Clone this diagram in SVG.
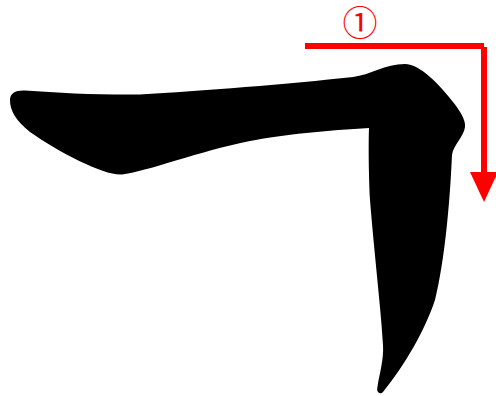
<svg xmlns="http://www.w3.org/2000/svg" width="496" height="396" viewBox="0 0 496 396">
<style>
.red{stroke:#ff0000;stroke-width:6;fill:none}
.num{font-family:"Noto Sans CJK JP","DejaVu Sans",sans-serif;font-size:35px;fill:#ff0000}
</style>
<rect width="496" height="396" fill="#ffffff"/>
<g id="stroke">
<path fill="#000000" d="M 10,100 C 10,93 16,90 25,90.5 C 60,93 100,95 140,94.5 C 200,91 290,84 353,77 C 370,75 385,64 405,64 C 420,64 440,85 453,102 C 460,111 466,120 465,127 C 464,136 453,146 452,155 C 450,200 445,260 435,300 C 425,330 405,365 383,392 C 380,395 376,392 377.5,387 C 379,375 384,360 383,345 C 382,320 374,250 370,200 C 368.5,170 368.5,140 369,128 C 330,130 280,135 250,141 C 200,151 145,172 122,174.5 C 105,176 60,153 30,132 C 15,120 10,110 10,100 Z"/>
</g>
<g id="connectors">
<line class="red" x1="305" y1="46" x2="484" y2="46"/>
<line class="red" x1="484" y1="47" x2="484" y2="174"/>
<polygon fill="#ff0000" points="470,172 498,172 484,202"/>
</g>
<g id="label">
<text class="num" x="360" y="35.5" text-anchor="middle">①</text>
</g>
</svg>
